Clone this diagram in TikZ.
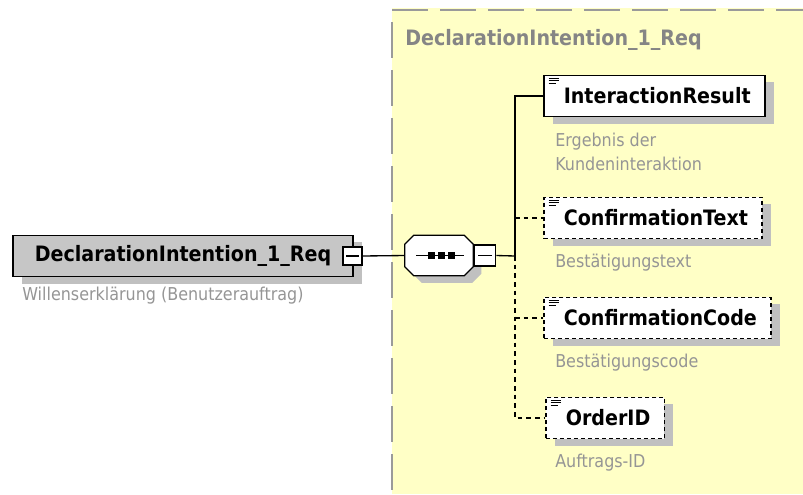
\documentclass[tikz,border=0pt]{standalone}
\usepackage{fontspec}
\setmainfont{DejaVu Sans}[FakeStretch=0.9]
\usetikzlibrary{calc,shadows}
\definecolor{groupfill}{HTML}{FFFFC6}
\definecolor{groupline}{HTML}{9A9A9A}
\definecolor{titlegray}{HTML}{858585}
\definecolor{notegray}{HTML}{959595}
\definecolor{mainfill}{HTML}{C6C6C6}
\definecolor{shadowgray}{HTML}{C0C0C0}

\begin{document}
\begin{tikzpicture}[x=0.75pt,y=-0.75pt,
  elembox/.style={draw,line width=1.2pt,inner sep=0pt,minimum height=31pt,
    font=\fontsize{15.9}{18}\selectfont\bfseries,
    drop shadow={shadow xshift=6.75pt,shadow yshift=-5.25pt,fill=shadowgray,opacity=1}},
  childbox/.style={elembox,fill=white,anchor=west,inner xsep=10.5pt,
    path picture={\foreach \k/\len in {0/7.5pt,1/7.5pt,2/5.5pt}
      \draw[solid,line width=0.7pt] ([xshift=3.6pt,yshift={-2pt-\k*2.1pt}]path picture bounding box.north west) -- ++(\len,0);}},
  optbox/.style={childbox,dash pattern=on 3pt off 2.25pt},
  minusbox/.style={draw,fill=white,line width=0.9pt,inner sep=0pt,
    path picture={\draw[line width=0.9pt] ([xshift=2.6pt]path picture bounding box.west) -- ([xshift=-2.6pt]path picture bounding box.east);}},
  seqbox/.style={minimum width=51pt,minimum height=30pt,inner sep=0pt},
  seqline/.style={draw,fill=white,line width=1pt,
    drop shadow={shadow xshift=6pt,shadow yshift=-5.25pt,fill=shadowgray,opacity=1}},
  note/.style={font=\fontsize{13.3}{15}\selectfont,text=notegray,inner sep=0pt,anchor=west,align=left},
  conn/.style={line width=1pt},
  optline/.style={dash pattern=on 3.5pt off 3pt},
  groupborder/.style={groupline,line width=1.5pt,dash pattern=on 27pt off 9pt}]
\useasboundingbox (0,0) rectangle (803,494);

% group area
\fill[groupfill] (392,8) rectangle (803,494);
\draw[groupborder] (392,10) -- (803,10);
\draw[groupborder] (392,22) -- (392,494);
\node[font=\fontsize{15.9}{18}\selectfont\bfseries,text=titlegray,inner sep=0pt,anchor=west] (grouptitle) at (405,40) {DeclarationIntention\_1\_Req};

% root element
\node[elembox,fill=mainfill,minimum width=255pt] (decl) at (183,256) {DeclarationIntention\_1\_Req\hspace{4.5pt}};
\node[minusbox,minimum width=14.25pt,minimum height=13.5pt] (declmin) at (352.5,256) {};
\node[note] (decldoc) at (22,296) {Willenserklärung (Benutzerauftrag)};

% sequence
\node[seqbox] (seq) at (439,255.5) {};
\path[seqline] ($(seq.north west)+(9,0)$) -- ($(seq.north east)+(-9,0)$) -- ($(seq.north east)+(0,9)$)
  -- ($(seq.south east)+(0,-9)$) -- ($(seq.south east)+(-9,0)$) -- ($(seq.south west)+(9,0)$)
  -- ($(seq.south west)+(0,-9)$) -- ($(seq.north west)+(0,9)$) -- cycle;
\draw[line width=1pt] ($(seq.center)+(-23,0)$) -- ($(seq.center)+(25,0)$);
\foreach \dx in {-8,2,12}
  \fill ($(seq.center)+({\dx-3.5},-3.5)$) rectangle ++(7,7);
\node[minusbox,minimum size=15.75pt,anchor=west] (seqmin) at ($(seq.east)+(1,0)$) {};
\coordinate (br) at (515,256);

% children
\node[childbox] (ir) at (543,96) {\hspace{4.5pt}InteractionResult};
\node[note] (irdoc) at (555,152) {Ergebnis der\\[3pt]Kundeninteraktion};
\node[optbox] (ct) at (543,218) {\hspace{4.5pt}ConfirmationText};
\node[note] (ctdoc) at (555,263) {Bestätigungstext};
\node[optbox] (cc) at (543,318) {\hspace{4.5pt}ConfirmationCode};
\node[note] (ccdoc) at (555,363) {Bestätigungscode};
\node[optbox] (oid) at (545,418) {\hspace{4.5pt}OrderID};
\node[note] (oiddoc) at (555,463) {Auftrags-ID};

% connectors
\draw[conn] (declmin.east) -- (seq.west);
\draw[conn] (seqmin.east) -- (br);
\draw[conn] (br) |- (ir.west);
\draw[conn,optline] (br) |- (oid.west);
\draw[conn,optline] (br |- ct.west) -- (ct.west);
\draw[conn,optline] (br |- cc.west) -- (cc.west);
\end{tikzpicture}
\end{document}
